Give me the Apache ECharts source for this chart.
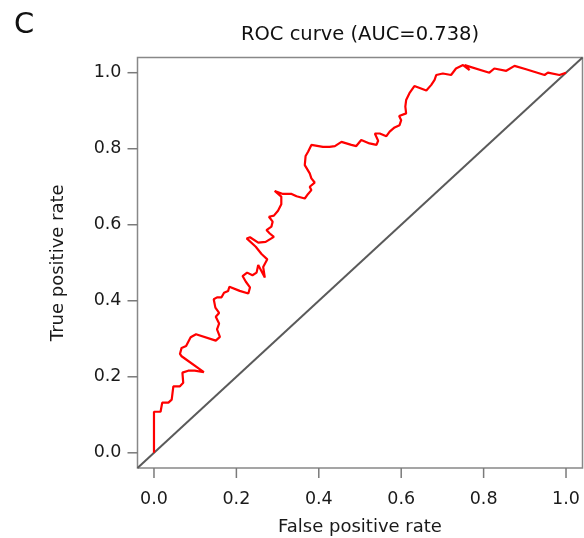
<!DOCTYPE html>
<html>
<head>
<meta charset="utf-8">
<script src="https://cdn.jsdelivr.net/npm/echarts@6/dist/echarts.min.js"></script>
<style>
html,body{margin:0;padding:0;background:#fff;}
#chart{width:584px;height:538px;}
</style>
</head>
<body>
<div id="chart"></div>
<script>
// ROC curve points
var fpr = [0.000,0.000,0.016,0.020,0.035,0.043,0.047,0.063,0.071,0.069,0.083,0.099,0.121,0.067,0.063,0.067,0.078,0.089,0.102,0.150,
0.160,0.153,0.158,0.150,0.158,0.149,0.145,0.153,0.164,0.170,0.180,0.183,0.208,0.229,0.233,0.223,0.215,0.226,0.239,0.249,
0.253,0.269,0.265,0.275,0.261,0.247,0.225,0.233,0.253,0.271,0.291,0.281,0.273,0.285,0.288,0.279,0.291,0.301,0.309,0.309,
0.293,0.313,0.334,0.346,0.366,0.374,0.382,0.378,0.390,0.382,0.378,0.366,0.368,0.374,0.382,0.386,0.410,0.426,0.439,0.455,
0.479,0.491,0.503,0.523,0.540,0.544,0.536,0.548,0.564,0.572,0.584,0.596,0.600,0.595,0.612,0.610,0.612,0.620,0.632,0.661,
0.673,0.681,0.685,0.701,0.721,0.733,0.750,0.766,0.754,0.814,0.826,0.855,0.875,0.903,0.948,0.956,0.984,1.000];
var tpr = [0.000,0.108,0.108,0.132,0.132,0.140,0.175,0.175,0.184,0.211,0.216,0.216,0.212,0.254,0.260,0.276,0.281,0.304,0.312,0.295,
0.305,0.325,0.340,0.358,0.368,0.382,0.404,0.409,0.409,0.421,0.426,0.437,0.426,0.419,0.435,0.450,0.465,0.474,0.467,0.474,
0.494,0.461,0.489,0.509,0.523,0.542,0.564,0.567,0.553,0.555,0.568,0.577,0.586,0.595,0.608,0.621,0.624,0.637,0.654,0.674,
0.689,0.681,0.681,0.675,0.669,0.681,0.691,0.700,0.711,0.722,0.735,0.757,0.781,0.792,0.810,0.814,0.805,0.805,0.807,0.818,
0.810,0.807,0.823,0.814,0.810,0.821,0.840,0.840,0.833,0.845,0.856,0.862,0.875,0.886,0.893,0.911,0.928,0.946,0.965,0.953,
0.968,0.981,0.994,0.998,0.994,1.011,1.020,1.007,1.020,1.000,1.011,1.005,1.018,1.009,0.994,1.000,0.994,1.000];
var tickValues = [0, 0.2, 0.4, 0.6, 0.8, 1.0];
var tickLabels = ['0.0', '0.2', '0.4', '0.6', '0.8', '1.0'];
var diagX = [-0.04, 1.04];
var diagY = [-0.04, 1.04];
var titleText = 'ROC curve (AUC=0.738)';
var panelLabel = 'C';
var xName = 'False positive rate';
var yName = 'True positive rate';

var curve = fpr.map(function (x, i) { return [x, tpr[i]]; });
var diag = diagX.map(function (x, i) { return [x, diagY[i]]; });
function fmt(v) {
  var i = tickValues.findIndex(function (t) { return Math.abs(t - v) < 1e-9; });
  return i >= 0 ? tickLabels[i] : '';
}
var FONT = '"DejaVu Sans", "Liberation Sans", Arial, sans-serif';
var TICK_LEN = 10;
var TICK_STYLE = { stroke: '#7a7a7a', lineWidth: 1.5 };
var axisCommon = {
  type: 'value', min: -0.04, max: 1.04,
  axisLine: { show: false, onZero: false },
  splitLine: { show: false },
  axisTick: { show: false },
  axisLabel: { customValues: tickValues, formatter: fmt, color: '#1a1a1a', fontSize: 17.5, fontFamily: FONT },
  nameLocation: 'middle',
  nameTextStyle: { color: '#1a1a1a', fontSize: 18, fontFamily: FONT }
};
var chart = echarts.init(document.getElementById('chart'), null, { renderer: 'canvas' });
chart.setOption({
  animation: false,
  backgroundColor: '#fff',
  grid: { left: 137.5, top: 57.5, right: 1.5, bottom: 70, show: true, borderColor: '#888', borderWidth: 1.5,
          backgroundColor: 'transparent', containLabel: false, outerBoundsMode: 'none' },
  xAxis: Object.assign({}, axisCommon, {
    name: xName, nameGap: 50,
    axisLabel: Object.assign({}, axisCommon.axisLabel, { margin: 22 })
  }),
  yAxis: Object.assign({}, axisCommon, {
    name: yName, nameGap: 70,
    axisLabel: Object.assign({}, axisCommon.axisLabel, { margin: 16 })
  }),
  graphic: [
    { type: 'text', x: 360, y: 35, style: { text: titleText, fill: '#111', font: '19.5px ' + FONT, align: 'center', verticalAlign: 'middle' } },
    { type: 'text', x: 14, y: 25, style: { text: panelLabel, fill: '#111', font: '29px ' + FONT, align: 'left', verticalAlign: 'middle' } }
  ],
  series: [
    { type: 'line', data: diag, showSymbol: false, silent: true, lineStyle: { color: '#5a5a5a', width: 2 }, z: 2 },
    { type: 'line', data: curve, showSymbol: false, silent: true, lineStyle: { color: '#ff0000', width: 2.2 }, z: 3 },
    // x-axis tick marks (outside the bottom edge)
    { type: 'custom', silent: true, clip: false, z: 4,
      data: tickValues.map(function (v) { return [v, 0]; }),
      renderItem: function (params, api) {
        var cs = params.coordSys;
        var p = api.coord([api.value(0), api.value(1)]);
        var yb = cs.y + cs.height;
        return { type: 'line', shape: { x1: p[0], y1: yb, x2: p[0], y2: yb + TICK_LEN }, style: TICK_STYLE };
      } },
    // y-axis tick marks (outside the left edge)
    { type: 'custom', silent: true, clip: false, z: 4,
      data: tickValues.map(function (v) { return [0, v]; }),
      renderItem: function (params, api) {
        var cs = params.coordSys;
        var p = api.coord([api.value(0), api.value(1)]);
        return { type: 'line', shape: { x1: cs.x, y1: p[1], x2: cs.x - TICK_LEN, y2: p[1] }, style: TICK_STYLE };
      } }
  ]
});
</script>
</body>
</html>
